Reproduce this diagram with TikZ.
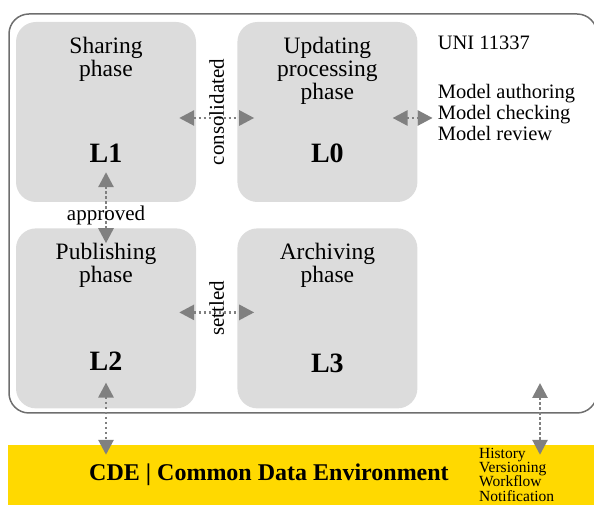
\documentclass[tikz,border=0pt]{standalone}
\usepackage{fontspec}
\setmainfont{Liberation Serif}
\usepackage{xcolor}
\usetikzlibrary{positioning}
\usetikzlibrary{arrows.meta}
\definecolor{boxgray}{RGB}{220,220,220}
\definecolor{arrowgray}{RGB}{128,128,128}
\definecolor{framegray}{RGB}{110,110,110}
\definecolor{cdeyellow}{RGB}{255,217,0}
\tikzset{phase/.style={fill=boxgray, rounded corners=20pt, inner sep=0pt,
minimum width=180pt, minimum height=180pt},
flow/.style={{Triangle[length=15pt,width=15pt]}-{Triangle[length=15pt,width=15pt]},
draw=arrowgray, line width=2.8pt, dash pattern=on 2.5pt off 2.5pt}}

\begin{document}
\begin{tikzpicture}[x=1pt, y=1pt,
  title/.style={font=\fontsize{23.5}{23}\selectfont, align=center, inner sep=0pt},
  lvl/.style={font=\fontsize{28}{28}\selectfont\bfseries, anchor=base, inner sep=0pt},
  side/.style={font=\fontsize{20.5}{21}\selectfont, align=left, inner sep=0pt},
  tag/.style={font=\fontsize{21}{21}\selectfont, inner sep=0pt},
  band/.style={fill=cdeyellow, inner sep=0pt, minimum width=592pt, minimum height=60pt}]
\useasboundingbox (0,0) rectangle (594,505);
\draw[framegray, line width=1.5pt, rounded corners=20pt] (9,92) rectangle (597,491);
\node[phase] (l1) at (106,393) {};
\node[phase, right=41pt of l1] (l0) {};
\node[phase, below=26pt of l1] (l2) {};
\node[phase, right=41pt of l2] (l3) {};
\node[title, below=15pt of l1.north] (t1) {Sharing\\phase};
\node[title, below=15pt of l0.north] (t0) {Updating\\processing\\phase};
\node[title, below=15pt of l2.north] (t2) {Publishing\\phase};
\node[title, below=15pt of l3.north] (t3) {Archiving\\phase};
\node[lvl] (n1) at ([yshift=-51pt]l1.center) {L1};
\node[lvl] (n0) at ([yshift=-51pt]l0.center) {L0};
\node[lvl] (n2) at ([yshift=-52pt]l2.center) {L2};
\node[lvl] (n3) at ([yshift=-54pt]l3.center) {L3};
\node[side, right=20pt of l0.east] (models) {Model authoring\\Model checking\\Model review};
\node[side, above right=34pt and 0pt of models.north west] (uni) {UNI 11337};
\node[band] (cde) at (304,30) {};
\node[font=\fontsize{24}{24}\selectfont\bfseries, inner sep=0pt] (cdetext) at (269,30) {CDE | Common Data Environment};
\node[font=\fontsize{15.5}{14.3}\selectfont, align=left, inner sep=0pt, anchor=west] (hist) at (479,30.5) {History\\Versioning\\Workflow\\Notification};
\coordinate (port) at (540,122);
\coordinate (cdein) at (l2.south |- cde.north);
\coordinate (cdeport) at (port |- cde.north);
\draw[flow] ([xshift=-17pt,yshift=-6pt]l1.east) -- ([xshift=17pt,yshift=-6pt]l0.west);
\draw[flow] ([xshift=-17pt,yshift=6pt]l2.east) -- ([xshift=17pt,yshift=6pt]l3.west);
\draw[flow] ([yshift=30pt]l1.south) -- ([yshift=-15pt]l2.north);
\draw[flow] ([xshift=-25pt,yshift=-6pt]l0.east) -- ([xshift=-5pt,yshift=-6pt]models.west);
\draw[flow] ([yshift=26pt]l2.south) -- ([yshift=-10pt]cdein);
\draw[flow] (port) -- ([yshift=-10pt]cdeport);
\node[tag, rotate=90] (cons) at ([xshift=20.5pt]l1.east) {consolidated};
\node[tag, rotate=90] (sett) at ([xshift=20.5pt,yshift=10pt]l2.east) {settled};
\node[tag] (appr) at ([yshift=-13pt]l1.south) {approved};
\end{tikzpicture}
\end{document}
